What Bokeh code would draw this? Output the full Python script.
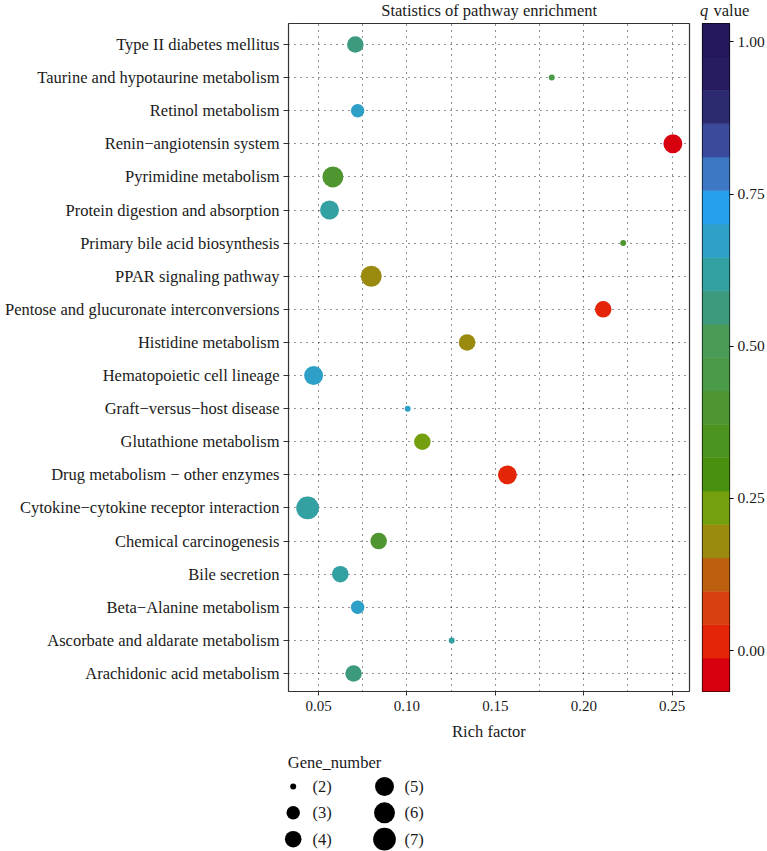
import numpy as np
from bokeh.plotting import figure
from bokeh.layouts import column, row
from bokeh.models import ColumnDataSource, FixedTicker, NumeralTickFormatter, Range1d
from bokeh.transform import linear_cmap
from bokeh.core.properties import value
from bokeh.embed import file_html
from bokeh.resources import INLINE

# ---------------- data ----------------
pathways = [
    "Type II diabetes mellitus",
    "Taurine and hypotaurine metabolism",
    "Retinol metabolism",
    "Renin\u2212angiotensin system",
    "Pyrimidine metabolism",
    "Protein digestion and absorption",
    "Primary bile acid biosynthesis",
    "PPAR signaling pathway",
    "Pentose and glucuronate interconversions",
    "Histidine metabolism",
    "Hematopoietic cell lineage",
    "Graft\u2212versus\u2212host disease",
    "Glutathione metabolism",
    "Drug metabolism \u2212 other enzymes",
    "Cytokine\u2212cytokine receptor interaction",
    "Chemical carcinogenesis",
    "Bile secretion",
    "Beta\u2212Alanine metabolism",
    "Ascorbate and aldarate metabolism",
    "Arachidonic acid metabolism",
]
rich_factor = [0.0708, 0.1819, 0.0721, 0.2504, 0.0581, 0.0562, 0.2223, 0.0798, 0.2110, 0.1340,
               0.0472, 0.1004, 0.1087, 0.1568, 0.0438, 0.0840, 0.0623, 0.0721, 0.1253, 0.0698]
gene_number = [4, 2, 3, 5, 6, 5, 2, 6, 4, 4, 5, 2, 4, 5, 7, 4, 4, 3, 2, 4]
q_value = [0.56, 0.45, 0.67, -0.03, 0.40, 0.62, 0.41, 0.18, 0.02, 0.17,
           0.68, 0.67, 0.24, 0.01, 0.62, 0.40, 0.61, 0.67, 0.62, 0.56]

q_palette = ["#D8000F", "#E42508", "#D84010", "#BC6010", "#9A8A10", "#74A010", "#4A9010",
             "#4C9420", "#4F9530", "#4A9A48", "#4A9A58", "#3E9A7E", "#33A0A2", "#2EA0C8",
             "#25A0EC", "#3C78C4", "#3B4A9A", "#2C2B72", "#271C60", "#24185A"]
q_low, q_high = -0.067, 1.030
q_ticks = [0.0, 0.25, 0.5, 0.75, 1.0]

x_ticks = [0.05, 0.10, 0.15, 0.20, 0.25]
x_minor = [0.075, 0.125, 0.175, 0.225]

legend_genes = [2, 3, 4, 5, 6, 7]
size_limits = (2, 7)
size_range = (6.0, 22.7)

title_text = "Statistics of pathway enrichment"
q_title = ("q", "value")
x_label = "Rich factor"
size_title = "Gene_number"


def size_scale(n):
    """area scale (like ggplot2 scale_size)"""
    t = (np.asarray(n, dtype=float) - size_limits[0]) / (size_limits[1] - size_limits[0])
    return size_range[0] + np.sqrt(t) * (size_range[1] - size_range[0])


FONT = "Liberation Serif"
TXT = "#1a1a1a"
GRID = "#000000"
W, H = 767, 851
HD_H = 20
LG_H = 103
ROW_H = H - HD_H - LG_H


def blank(width, height):
    f = figure(width=width, height=height, x_range=Range1d(0, width), y_range=Range1d(height, 0),
               output_backend="svg", toolbar_location=None, title=None,
               x_axis_location=None, y_axis_location=None, min_border=0)
    f.grid.visible = False
    f.outline_line_color = None
    return f


# ---------------- header (title + colour-bar title) ----------------
hd = blank(W, HD_H)
hd.text(x=[488.7], y=[9.5], text=[title_text], text_font=value(FONT), text_font_size="16.5px",
        text_align="center", text_baseline="middle", text_color=TXT)
hd.text(x=[699.5], y=[9.5], text=[q_title[0]], text_font=value(FONT), text_font_size="16.5px",
        text_font_style="italic", text_align="left", text_baseline="middle", text_color=TXT)
hd.text(x=[713.0], y=[9.5], text=[q_title[1]], text_font=value(FONT), text_font_size="16.5px",
        text_align="left", text_baseline="middle", text_color=TXT)

# ---------------- main dot plot ----------------
n = len(pathways)
ypos = list(range(n, 0, -1))
src = ColumnDataSource(dict(path=pathways, x=rich_factor, y=ypos, q=q_value,
                            size=size_scale(gene_number)))

x0, x1 = 0.033, 0.2598
y0, y1 = 0.456, 20.634
p = figure(width=696, height=ROW_H, x_range=Range1d(x0, x1), y_range=Range1d(y0, y1),
           output_backend="svg", toolbar_location=None, title=None,
           min_border_left=288, min_border_right=7, min_border_top=3,
           min_border_bottom=ROW_H - 3 - 668)
p.background_fill_color = "white"
p.border_fill_color = "white"
p.outline_line_color = "#333333"
p.outline_line_width = 1.2

p.scatter("x", "y", size="size", source=src, marker="circle",
          fill_color=linear_cmap("q", q_palette, q_low, q_high), line_color=None)

p.xaxis.ticker = FixedTicker(ticks=x_ticks, minor_ticks=x_minor)
p.xaxis.formatter = NumeralTickFormatter(format="0.00")
p.yaxis.ticker = FixedTicker(ticks=ypos)
p.yaxis.major_label_overrides = {y: name for y, name in zip(ypos, pathways)}

for ax in (p.xaxis[0], p.yaxis[0]):
    ax.axis_line_color = None
    ax.major_tick_line_color = "#333333"
    ax.major_tick_in = 0
    ax.minor_tick_line_color = None
    ax.major_label_text_font = FONT
    ax.major_label_text_color = TXT

p.xaxis.major_tick_out = 4
p.xaxis.major_label_standoff = 5
p.xaxis.major_label_text_font_size = "15px"
p.xaxis.axis_label = x_label
p.xaxis.axis_label_text_font = FONT
p.xaxis.axis_label_text_font_style = "normal"
p.xaxis.axis_label_text_font_size = "16.5px"
p.xaxis.axis_label_text_color = TXT
p.xaxis.axis_label_standoff = 8

p.yaxis.major_tick_out = 5
p.yaxis.major_label_standoff = 4
p.yaxis.major_label_text_font_size = "16.5px"

p.xgrid.grid_line_color = GRID
p.xgrid.grid_line_dash = "1 5"
p.xgrid.grid_line_alpha = 0.85
p.xgrid.minor_grid_line_color = GRID
p.xgrid.minor_grid_line_dash = "1 5"
p.xgrid.minor_grid_line_alpha = 0.85
p.ygrid.grid_line_color = GRID
p.ygrid.grid_line_dash = "1 5"
p.ygrid.grid_line_alpha = 0.85

# ---------------- colour bar ----------------
CB_W = W - 696
cb = figure(width=CB_W, height=ROW_H, x_range=Range1d(0, 1), y_range=Range1d(q_low, q_high),
            output_backend="svg", toolbar_location=None, title=None,
            x_axis_location=None, y_axis_location="right",
            min_border_left=6, min_border_right=CB_W - 6 - 27, min_border_top=2,
            min_border_bottom=ROW_H - 2 - 670)
edges = np.linspace(q_low, q_high, len(q_palette) + 1)
cb.quad(left=0, right=1, bottom=edges[:-1], top=edges[1:], fill_color=q_palette,
        line_color=q_palette, line_width=0.5)
cb.grid.visible = False
cb.outline_line_color = "black"
cb.outline_line_width = 1.2
cb.yaxis.ticker = FixedTicker(ticks=q_ticks)
cb.yaxis.formatter = NumeralTickFormatter(format="0.00")
cb.yaxis.axis_line_color = None
cb.yaxis.major_tick_out = 4
cb.yaxis.major_tick_in = 0
cb.yaxis.major_tick_line_color = "black"
cb.yaxis.minor_tick_line_color = None
cb.yaxis.major_label_standoff = 4
cb.yaxis.major_label_text_font = FONT
cb.yaxis.major_label_text_font_size = "15.5px"
cb.yaxis.major_label_text_color = TXT

# ---------------- size legend ----------------
lg = blank(W, LG_H)
col_dot_x = [292.7, 384.0]
col_lab_x = [312.0, 404.0]
row_y = [38.0, 64.3, 90.7]
leg_dot_x = [col_dot_x[i // 3] for i in range(len(legend_genes))]
leg_lab_x = [col_lab_x[i // 3] for i in range(len(legend_genes))]
leg_y = [row_y[i % 3] for i in range(len(legend_genes))]
lg.scatter(x=leg_dot_x, y=leg_y, size=size_scale(legend_genes), marker="circle",
           fill_color="black", line_color=None)
lg.text(x=leg_lab_x, y=leg_y, text=[f"({g})" for g in legend_genes], text_font=value(FONT),
        text_font_size="16.5px", text_baseline="middle", text_align="left", text_color=TXT)
lg.text(x=[287.3], y=[14.3], text=[size_title], text_font=value(FONT), text_font_size="16.5px",
        text_baseline="middle", text_align="left", text_color=TXT)

layout = column(hd, row(p, cb), lg)
open("out.html", "w").write(file_html(layout, INLINE))
